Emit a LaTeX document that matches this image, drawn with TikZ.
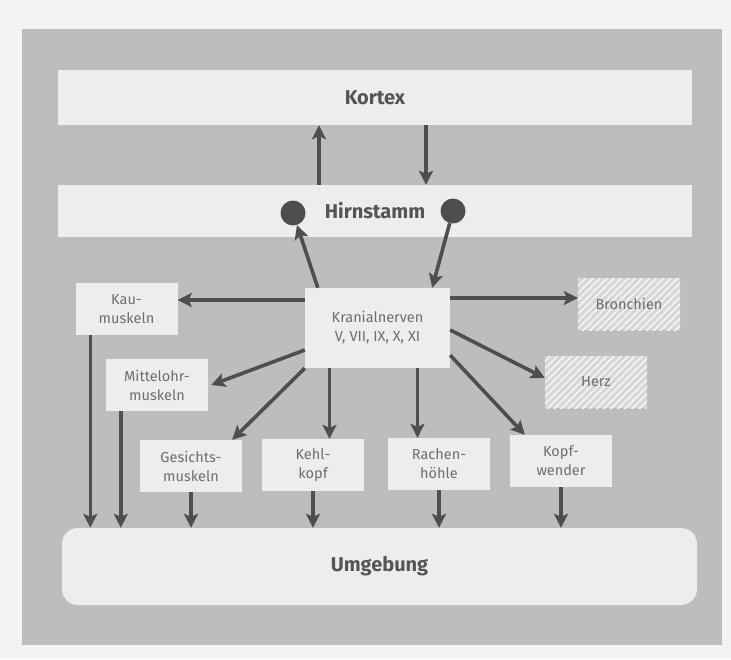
\documentclass[tikz,border=0pt]{standalone}
\usepackage{fontspec}
\setmainfont{Fira Sans}
\usepackage{tikz}
\usetikzlibrary{arrows.meta,patterns.meta}

\definecolor{paper}{HTML}{F3F3F3}
\definecolor{panel}{HTML}{BDBDBD}
\definecolor{boxfill}{HTML}{EDEDED}
\definecolor{hatchfill}{HTML}{D6D6D6}
\definecolor{ink}{HTML}{4E4E4E}
\definecolor{txt}{HTML}{555555}

\tikzset{
  band/.style={fill=boxfill, minimum width=634pt, text=txt,
    font=\fontsize{20}{24}\selectfont\bfseries},
  organ/.style={fill=boxfill, minimum width=102pt, minimum height=52pt, text=txt!85,
    font=\fontsize{14.5}{19}\selectfont, align=center, inner sep=2pt},
  hatched/.style={organ, fill=hatchfill,
    postaction={pattern={Lines[angle=45,distance=5pt,line width=1.6pt]}, pattern color=white!92!gray}},
  arr/.style={draw=ink, line width=3.6pt, -{Stealth[length=14pt,width=14pt,inset=3pt]}},
  dot/.style={circle, fill=ink, minimum size=25pt, inner sep=0pt}
}

\begin{document}
\begin{tikzpicture}[x=1pt, y=-1pt]
  \useasboundingbox (0,0) rectangle (731,659);
  \fill[paper] (0,0) rectangle (731,659);
  \fill[panel] (22,29) rectangle (722,645);

  % bands
  \node[band, minimum height=55pt] (kortex) at (375,97.5) {Kortex};
  \node[band, minimum height=52pt] (hirn) at (375,211) {Hirnstamm};
  \node[band, minimum width=635pt, minimum height=77pt, rounded corners=16pt]
    (umg) at (379.5,566.5) {Umgebung};
  \node[dot] (dotL) at (293,213) {};
  \node[dot] (dotR) at (453,211) {};

  % nerves and targets
  \node[organ, minimum width=145pt, minimum height=80pt] (kran) at (377.5,328)
    {Kranialnerven\\V, VII, IX, X, XI};
  \node[organ] (kau) at (126.5,309) {Kau-\\muskeln};
  \node[organ] (mittel) at (157,385) {Mittelohr-\\muskeln};
  \node[organ] (gesicht) at (191,466) {Gesichts-\\muskeln};
  \node[organ] (kehl) at (313,465) {Kehl-\\kopf};
  \node[organ] (rachen) at (439,464) {Rachen-\\höhle};
  \node[organ] (kopf) at (561,461) {Kopf-\\wender};
  \node[hatched] (bronch) at (629,304) {Bronchien};
  \node[hatched] (herz) at (596,382) {Herz};

  % kortex <-> hirnstamm
  \draw[arr] ([xshift=-56pt]hirn.north) -- ([xshift=-56pt]kortex.south);
  \draw[arr] ([xshift=51pt]kortex.south) -- ([xshift=51pt]hirn.north);
  \draw[arr] ([xshift=13pt]kran.north west) -- (dotL);
  \draw[arr] (dotR) -- ([xshift=-18pt]kran.north east);

  % outgoing
  \draw[arr] ([yshift=28pt]kran.west) -- ([yshift=28pt]kran.west -| kau.east);
  \draw[arr] ([yshift=30pt]kran.east) -- ([yshift=30pt]kran.east -| bronch.west);
  \draw[arr] ([yshift=-22pt]kran.west) -- ([xshift=3pt]mittel.east);
  \draw[arr] (kran.south west) -- ([xshift=-10pt]gesicht.north east);
  \draw[arr] ([xshift=-48pt]kran.south) -- ([xshift=-48pt]kran.south |- kehl.north);
  \draw[arr] ([xshift=40pt]kran.south) -- ([xshift=40pt]kran.south |- rachen.north);
  \draw[arr] ([yshift=13pt]kran.south east) -- ([xshift=15pt]kopf.north west);
  \draw[arr] ([yshift=-2pt]kran.east) -- ([yshift=4pt]herz.west);

  % down to umgebung
  \draw[arr] ([xshift=15pt]kau.south west) -- ([xshift=15pt]kau.south west |- umg.north);
  \draw[arr] ([xshift=15pt]mittel.south west) -- ([xshift=15pt]mittel.south west |- umg.north);
  \foreach \b in {gesicht,kehl,rachen,kopf}
    \draw[arr] (\b.south) -- (\b.south |- umg.north);
\end{tikzpicture}
\end{document}
